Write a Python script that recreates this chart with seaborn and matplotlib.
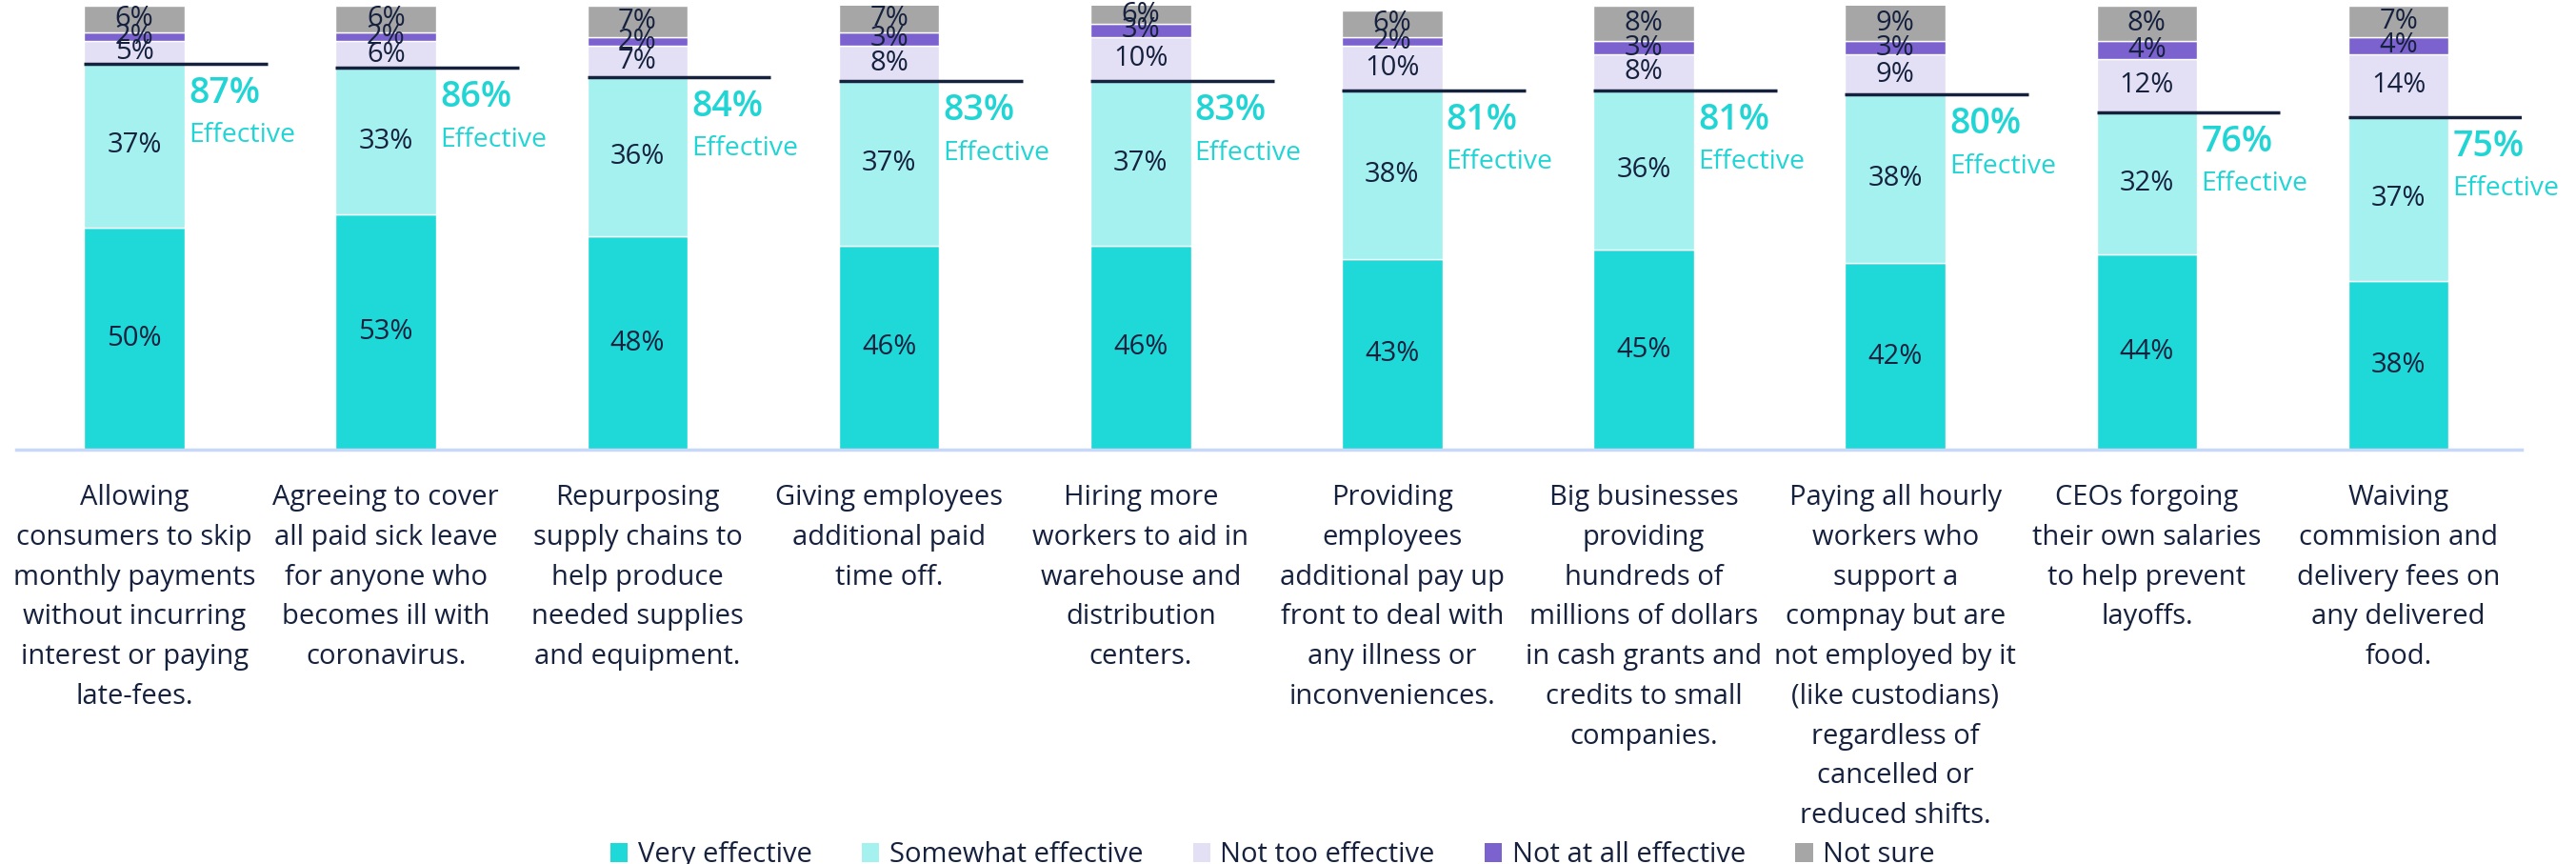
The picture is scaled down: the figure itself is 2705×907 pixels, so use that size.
import pandas as pd
import seaborn as sns
from matplotlib import pyplot as plt
from matplotlib.patches import Patch

sns.set_style("white")
plt.rcParams['font.family'] = ['Open Sans', 'DejaVu Sans']

questions = [
    "Allowing\nconsumers to skip\nmonthly payments\nwithout incurring\ninterest or paying\nlate-fees.",
    "Agreeing to cover\nall paid sick leave\nfor anyone who\nbecomes ill with\ncoronavirus.",
    "Repurposing\nsupply chains to\nhelp produce\nneeded supplies\nand equipment.",
    "Giving employees\nadditional paid\ntime off.",
    "Hiring more\nworkers to aid in\nwarehouse and\ndistribution\ncenters.",
    "Providing\nemployees\nadditional pay up\nfront to deal with\nany illness or\ninconveniences.",
    "Big businesses\nproviding\nhundreds of\nmillions of dollars\nin cash grants and\ncredits to small\ncompanies.",
    "Paying all hourly\nworkers who\nsupport a\ncompnay but are\nnot employed by it\n(like custodians)\nregardless of\ncancelled or\nreduced shifts.",
    "CEOs forgoing\ntheir own salaries\nto help prevent\nlayoffs.",
    "Waiving\ncommision and\ndelivery fees on\nany delivered\nfood.",
]

very = [50, 53, 48, 46, 46, 43, 45, 42, 44, 38]
somewhat = [37, 33, 36, 37, 37, 38, 36, 38, 32, 37]
not_too = [5, 6, 7, 8, 10, 10, 8, 9, 12, 14]
not_at_all = [2, 2, 2, 3, 3, 2, 3, 3, 4, 4]
not_sure = [6, 6, 7, 7, 6, 6, 8, 9, 8, 7]

series_names = ["Very effective", "Somewhat effective", "Not too effective",
                "Not at all effective", "Not sure"]
colors = ["#1fd9d9", "#a4f1f0", "#e3e0f5", "#7b62cf", "#a6a6a6"]
navy = "#16213e"
teal = "#22d5d5"

df = pd.DataFrame({'question': questions, 'very': very, 'somewhat': somewhat,
                   'not_too': not_too, 'not_at_all': not_at_all, 'not_sure': not_sure})
cols = ['very', 'somewhat', 'not_too', 'not_at_all', 'not_sure']

fig = plt.figure(figsize=(27.05, 9.07), dpi=100)
ax = fig.add_axes([17 / 2705, 435 / 907, 2631 / 2705, 466 / 907])

# stacked bars, one barplot per answer
bottom = pd.Series([0] * len(df))
for col, c in zip(cols, colors):
    sns.barplot(data=df, x='question', y=col, bottom=bottom.values, color=c,
                saturation=1, width=0.4, errorbar=None, ax=ax, order=questions)
    ax.bar_label(ax.containers[-1], labels=[f"{v}%" for v in df[col]],
                 label_type='center', fontsize=21, color=navy)
    bottom = bottom + df[col]

# effective totals
eff = df['very'] + df['somewhat']
for i, e in enumerate(eff):
    ax.hlines(e, i - 0.2, i + 0.53, color=navy, lw=2.5, zorder=5)
    ax.text(i + 0.215, e - 2.6, f"{e}%", color=teal, fontsize=27,
            fontweight='semibold', va='top', ha='left')
    ax.text(i + 0.215, e - 13.2, "Effective", color=teal, fontsize=20.5,
            va='top', ha='left')

ax.set_ylim(0, 100)
ax.set_xlim(-0.47, 9.49)
ax.set_xlabel('')
ax.set_ylabel('')
ax.set_yticks([])
for s in ['top', 'right', 'left']:
    ax.spines[s].set_visible(False)
ax.spines['bottom'].set_color('#c8d8f8')
ax.spines['bottom'].set_linewidth(2.5)
ax.tick_params(axis='x', length=0, pad=26)
ax.set_xticks(range(len(questions)))
ax.set_xticklabels(questions, fontsize=21, color=navy, linespacing=1.58)

handles = [Patch(facecolor=c, edgecolor='none') for c in colors]
fig.legend(handles, series_names, loc='center', bbox_to_anchor=(0.494, 0.01),
           ncol=5, frameon=False, fontsize=21, handlelength=0.63,
           handleheight=0.65, handletextpad=0.35, columnspacing=1.8,
           labelcolor=navy)

fig.savefig('out.png', dpi=100)
